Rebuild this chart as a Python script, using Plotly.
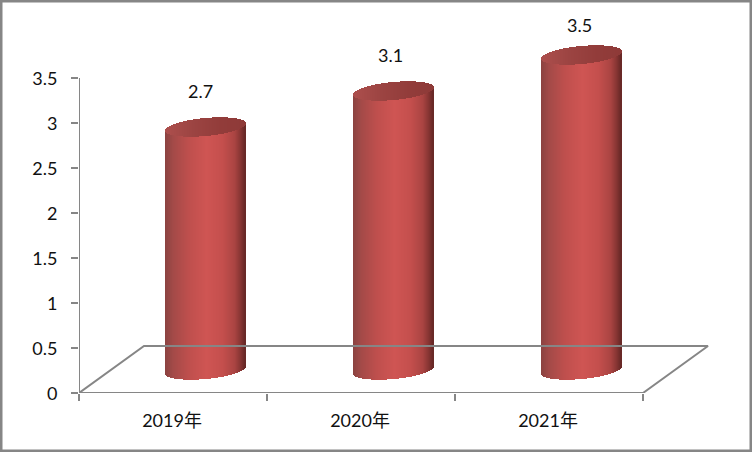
import numpy as np
import plotly.graph_objects as go

categories = ["2019年", "2020年", "2021年"]
values = [2.7, 3.1, 3.5]
y_ticks = [0, 0.5, 1, 1.5, 2, 2.5, 3, 3.5]

W, H = 752, 452
L, R, T, B_M = 79, 32, 10, 59   # plot box wide enough for the 3-D depth
PX_X = 188.0      # pixels per category
PX_Y = 90.0       # pixels per value unit
X_MIN, X_MAX = -0.5, -0.5 + (W - L - R) / PX_X
Y_MIN, Y_MAX = 0.0, (H - T - B_M) / PX_Y
DEPTH_X = 65 / PX_X
DEPTH_Y = 47 / PX_Y
BAR_SHIFT = 32.5 / PX_X
BASE_LIFT = 23 / PX_Y
A = 40.0          # half width, px
B = 9.0           # vertical half axis, px
TILT = 0.09
GREY = "#868686"

BODY_STOPS = [(0.0, "#8a4240"), (0.1, "#a34a48"), (0.3, "#bf4f4d"), (0.52, "#cf5553"),
              (0.72, "#c44f4d"), (0.87, "#aa4442"), (0.95, "#843432"), (1.0, "#652725")]
CAP_STOPS = [(0.0, "#ad4f4d"), (0.35, "#9c4442"), (0.7, "#923c3a"), (1.0, "#8e3a38")]


def lerp(stops, t):
    for (t0, c0), (t1, c1) in zip(stops, stops[1:]):
        if t <= t1:
            f = (t - t0) / (t1 - t0)
            a = [int(c0[i:i + 2], 16) for i in (1, 3, 5)]
            b = [int(c1[i:i + 2], 16) for i in (1, 3, 5)]
            return "rgb(%d,%d,%d)" % tuple(round(p + (q - p) * f) for p, q in zip(a, b))
    return stops[-1][1]


offsets = np.arange(-A + 0.5, A, 1.0)
bx, bbase, bh, bc = [], [], [], []
cx, cbase, ch, cc = [], [], [], []
for i, v in enumerate(values):
    for d in offsets:
        t = (d + A) / (2 * A)
        arc = B * np.sqrt(max(1 - (d / A) ** 2, 0)) / PX_Y
        lean = TILT * d / PX_Y
        x = i + BAR_SHIFT + d / PX_X
        low = BASE_LIFT + lean - arc
        top_mid = BASE_LIFT + v + lean
        bx.append(x); bbase.append(low); bh.append(top_mid - low); bc.append(lerp(BODY_STOPS, t))
        cx.append(x); cbase.append(top_mid - arc); ch.append(2 * arc); cc.append(lerp(CAP_STOPS, t))

fig = go.Figure()
# axis lines and floor of the 3-D plot
fig.add_trace(go.Scatter(
    x=[-0.5, -0.5, 2.5, 2.5 + DEPTH_X, -0.5 + DEPTH_X, -0.5],
    y=[3.5, 0, 0, DEPTH_Y, DEPTH_Y, 0],
    mode="lines", line=dict(color=GREY, width=2), cliponaxis=False,
    hoverinfo="skip", showlegend=False))
w = 1.25 / PX_X
fig.add_trace(go.Bar(x=bx, y=bh, base=bbase, width=w, marker=dict(color=bc, line=dict(width=0)),
                     hoverinfo="skip", showlegend=False))
fig.add_trace(go.Bar(x=cx, y=ch, base=cbase, width=w, marker=dict(color=cc, line=dict(width=0)),
                     hoverinfo="skip", showlegend=False))

label_shift = [(27, 59), (29, 59), (30, 53)]
for i, v in enumerate(values):
    fig.add_annotation(x=i, y=v, text=str(v), showarrow=False, xshift=label_shift[i][0],
                       yshift=label_shift[i][1], font=dict(size=18, color="#111111"))

fig.update_layout(
    width=W, height=H, barmode="overlay", bargap=0,
    margin=dict(l=L, r=R, t=T, b=B_M, pad=0),
    paper_bgcolor="white", plot_bgcolor="white",
    font=dict(family="Lato, 'Noto Sans CJK SC', sans-serif", size=18, color="#111111"),
    xaxis=dict(range=[X_MIN, X_MAX], tickmode="array", tickvals=[0, 1, 2], ticktext=categories,
               ticks="", showgrid=False, zeroline=False, showline=False, ticklabelstandoff=15,
               ticklabelshift=-1,
               minor=dict(tickmode="array", tickvals=[-0.5, 0.5, 1.5, 2.5], ticks="outside",
                          ticklen=7, tickwidth=2, tickcolor=GREY, showgrid=False)),
    yaxis=dict(range=[Y_MIN, Y_MAX], tickmode="array", tickvals=y_ticks,
               ticktext=[f"{t:g}" for t in y_ticks], ticks="outside", ticklen=7, tickwidth=2,
               tickcolor=GREY, showgrid=False, zeroline=False, showline=False,
               ticklabelstandoff=10, ticklabelshift=1),
    shapes=[dict(type="rect", xref="paper", yref="paper",
                 x0=(1 - L) / (W - L - R), x1=(W - 1 - L) / (W - L - R),
                 y0=-(B_M - 1) / (H - T - B_M), y1=1 + (T - 1) / (H - T - B_M),
                 line=dict(color=GREY, width=3), layer="above")],
)
fig.write_html("out.html", config=dict(displayModeBar=False),
               post_script="document.body.style.margin='0';")
